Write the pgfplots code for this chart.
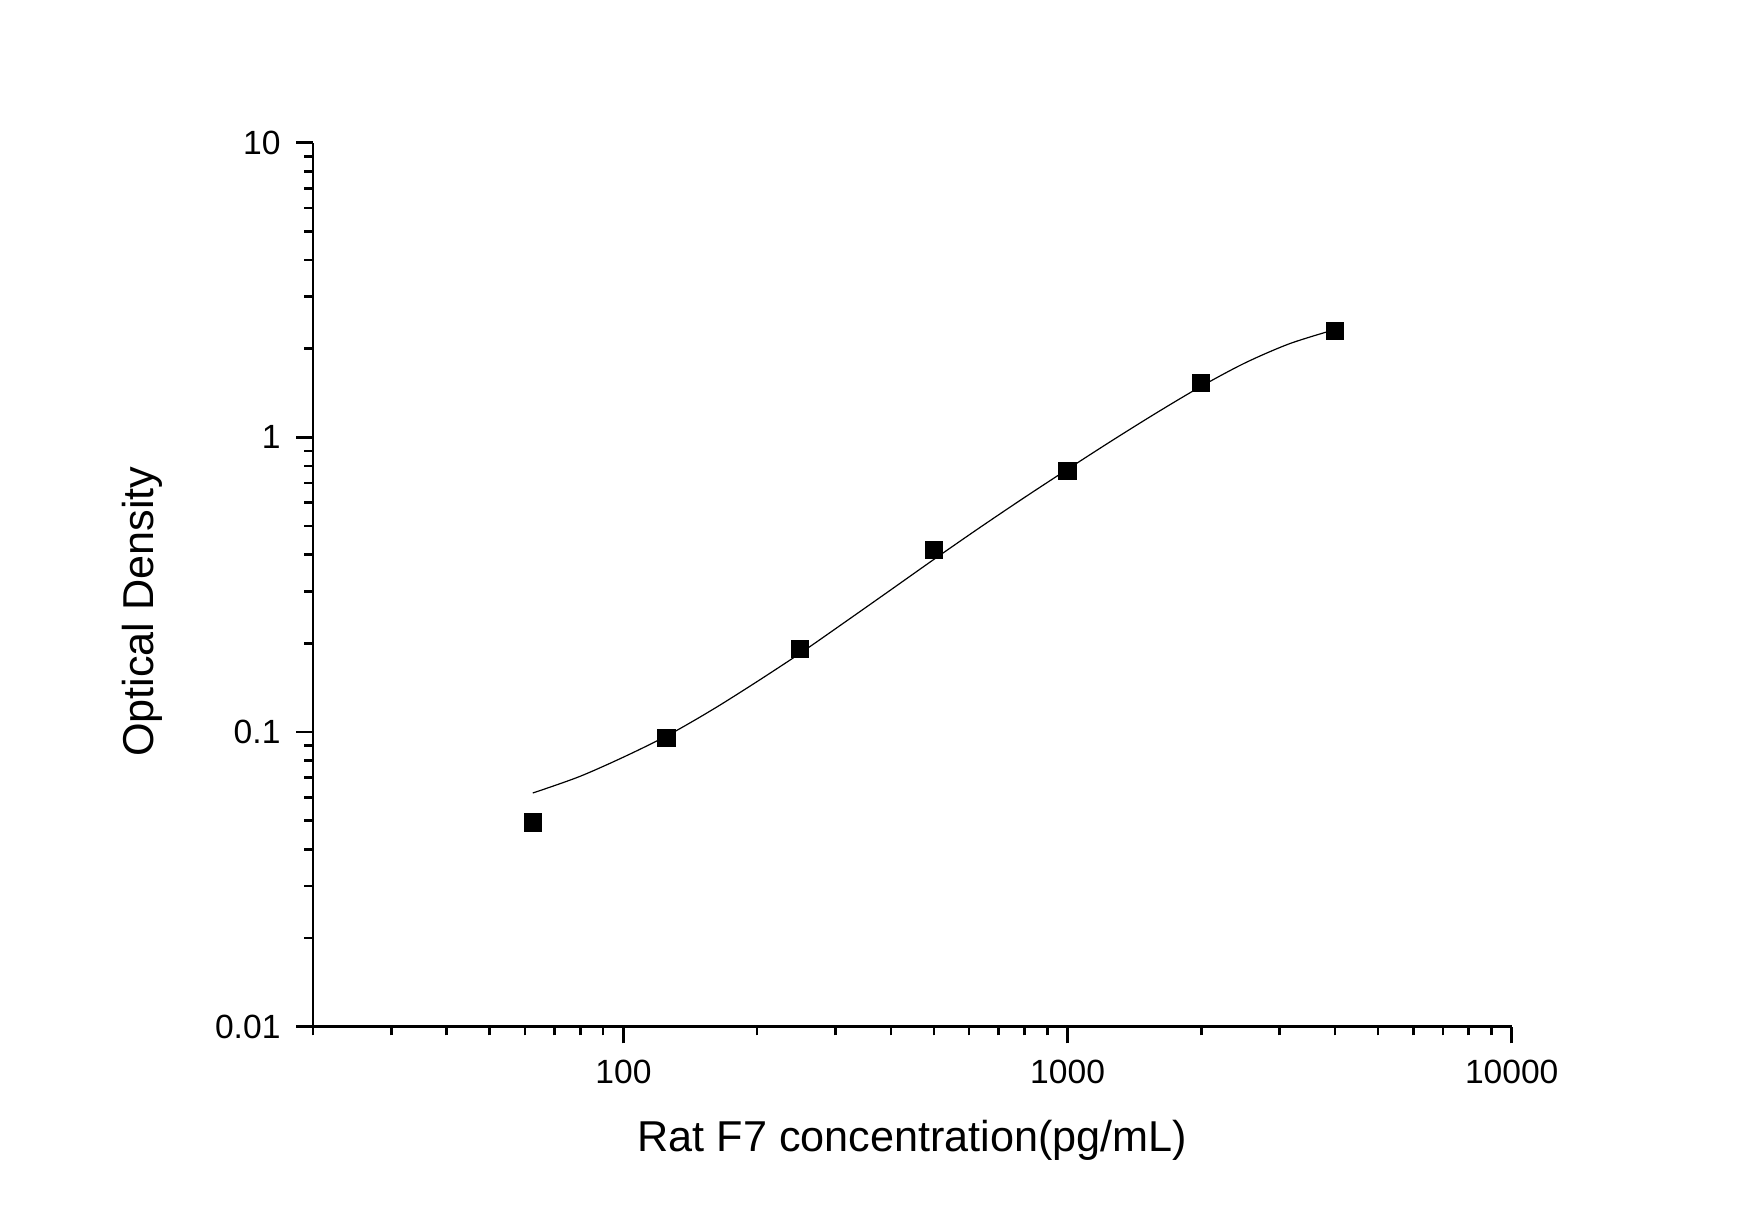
\documentclass[border=0pt]{standalone}
\usepackage{fontspec}
\setmainfont{Liberation Sans}
\usepackage{pgfplots}
\pgfplotsset{compat=1.18}

\begin{document}
\begin{tikzpicture}
  % page: 1755 x 1230 px at 4 px per pt
  \path[use as bounding box] (-78.25pt,-50.825pt) rectangle (360.5pt,256.675pt);
  \begin{axis}[
      scale only axis,
      width=299.675pt, height=221pt,
      xmode=log, ymode=log,
      xmin=20, xmax=10000,
      ymin=0.01, ymax=10,
      axis x line*=bottom, axis y line*=left,
      axis line style={line width=0.67pt},
      tick align=outside,
      major tick length=4.2pt, minor tick length=2.2pt,
      every tick/.style={black, line width=0.67pt},
      xtick={100,1000,10000},
      xticklabels={100,1000,10000},
      ytick={0.01,0.1,1,10},
      yticklabels={0.01,0.1,1,10},
      minor xtick={20,30,40,50,60,70,80,90,200,300,400,500,600,700,800,900,2000,3000,4000,5000,6000,7000,8000,9000},
      minor ytick={0.02,0.03,0.04,0.05,0.06,0.07,0.08,0.09,0.2,0.3,0.4,0.5,0.6,0.7,0.8,0.9,2,3,4,5,6,7,8,9},
      ticklabel style={font=\fontsize{8.4}{10}\selectfont},
      yticklabel style={inner sep=0pt, xshift=-3.75pt},
      xticklabel style={inner sep=0pt, yshift=-3.9pt},
      xlabel={Rat F7 concentration(pg/mL)},
      ylabel={Optical Density},
      label style={font=\fontsize{10.8}{13}\selectfont},
      xlabel style={at={(axis description cs:0.5,-0.1414)}, anchor=base, inner sep=0pt},
      ylabel style={at={(axis description cs:-0.1251,0.4695)}, anchor=south, inner sep=0pt},
      clip=false,
    ]
    % fitted curve
    \addplot[black, line width=0.3pt, no markers, smooth, tension=0.5] coordinates {
      (62.5,0.0621) (79.4,0.0705) (100,0.0822) (125.9,0.0975) (158.5,0.119)
      (199.5,0.148) (251.2,0.186) (316.2,0.2368) (398.1,0.3023) (501.2,0.3864)
      (631,0.4914) (794.3,0.6209) (1000,0.7798) (1258.9,0.975) (1584.9,1.2106)
      (1995.3,1.4876) (2511.9,1.7906) (3162.3,2.0797) (4000,2.3227)
    };
    % standards
    \addplot[only marks, mark=square*, mark size=2.08pt, black] coordinates {
      (62.5,0.0493) (125,0.0957) (250,0.191) (500,0.415)
      (1000,0.771) (2000,1.533) (4000,2.301)
    };
  \end{axis}
\end{tikzpicture}
\end{document}
